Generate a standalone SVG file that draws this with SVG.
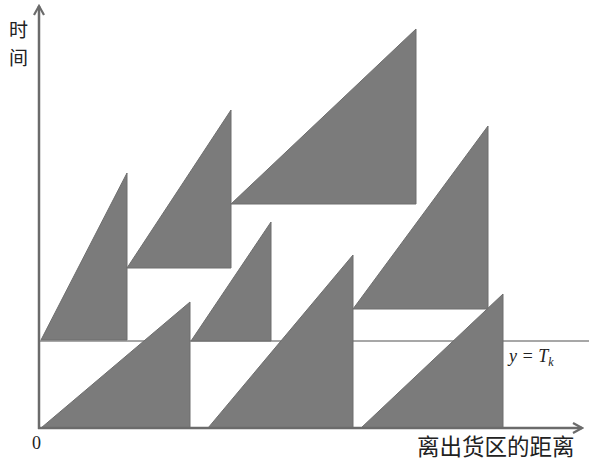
<svg xmlns="http://www.w3.org/2000/svg" width="589" height="461" viewBox="0 0 589 461">
<style>
.tri{fill:#7b7b7b;stroke:#6e6e6e;stroke-width:1}
.axis{stroke:#6b6b6b;stroke-width:2.5;fill:none}
.cjk{font-family:"Noto Sans CJK SC",sans-serif;font-size:22.5px;fill:#222}
.vcjk{font-family:"Noto Sans CJK SC",sans-serif;font-size:19px;fill:#222}
.math{font-family:"Liberation Serif",serif;font-size:18px;fill:#222}
</style>
<defs>
<marker id="arr" viewBox="0 0 12 12" refX="10" refY="6" markerWidth="12" markerHeight="12" markerUnits="userSpaceOnUse" orient="auto">
<path d="M1,1 L10,6 L1,11" fill="none" stroke="#6b6b6b" stroke-width="2.2"/>
</marker>
</defs>
<rect width="589" height="461" fill="#fff"/>
<g id="connectors">
<line x1="39" y1="341" x2="589" y2="341" stroke="#8a8a8a" stroke-width="1.5"/>
</g>
<g id="triangles">
<polygon id="t1" class="tri" points="41,428 190,302 190,428"/>
<polygon id="t2" class="tri" points="208,428 353,255 353,428"/>
<polygon id="t3" class="tri" points="361,428 503,294 503,428"/>
<polygon id="t4" class="tri" points="41,340 127,173 127,340"/>
<polygon id="t5" class="tri" points="127,268 231,110 231,268"/>
<polygon id="t6" class="tri" points="231,204 416,29 416,204"/>
<polygon id="t7" class="tri" points="191,341 271,222 271,341"/>
<polygon id="t8" class="tri" points="353,309 488,126 488,309"/>
</g>
<g id="axes">
<line class="axis" x1="39" y1="429" x2="39" y2="6" marker-end="url(#arr)"/>
<line class="axis" x1="38" y1="428" x2="582" y2="428" marker-end="url(#arr)"/>
</g>
<g id="labels">
<text class="vcjk" x="9" y="37">时</text>
<text class="vcjk" x="9" y="65">间</text>
<text class="math" x="32" y="449">0</text>
<text class="cjk" x="417" y="455">离出货区的距离</text>
<text class="math" x="509" y="362" font-style="italic">y = T<tspan font-size="12" dy="4">k</tspan></text>
</g>
</svg>
